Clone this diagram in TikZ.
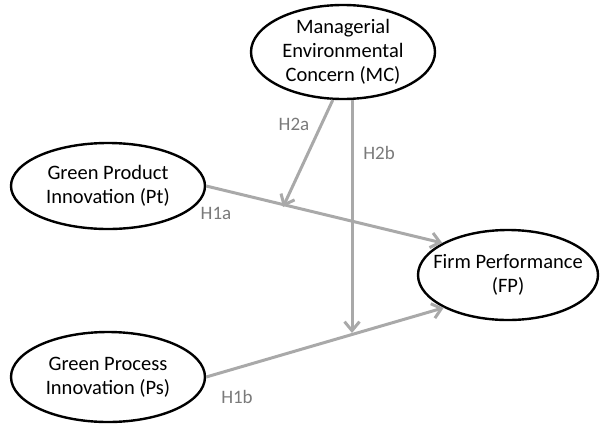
\documentclass[tikz,border=0pt]{standalone}
\usepackage{fontspec}
\setmainfont{Carlito}
\usetikzlibrary{shapes.geometric,arrows.meta}
\definecolor{arrowgray}{HTML}{A9A9A9}
\definecolor{labelgray}{HTML}{7A7A7A}
\tikzset{
  construct/.style={ellipse,draw=black,line width=2.4pt,inner xsep=-20pt,inner ysep=-14pt,align=center,font=\fontsize{20.5}{24}\selectfont},
  path/.style={draw=arrowgray,line width=3pt,-{Straight Barb[length=9pt,width=15pt,line width=3pt]}},
  hyp/.style={text=labelgray,font=\fontsize{19}{22}\selectfont}
}
\begin{document}
\begin{tikzpicture}[x=1pt,y=-1pt]
\useasboundingbox (0,0) rectangle (601,423);
\node[construct,minimum width=184pt,minimum height=94pt] (MC) at (343,52) {Managerial\\Environmental\\Concern (MC)};
\node[construct,minimum width=194pt,minimum height=86pt] (Pt) at (108,186) {Green Product\\Innovation (Pt)};
\node[construct,minimum width=194pt,minimum height=90pt] (Ps) at (108,377) {Green Process\\Innovation (Ps)};
\node[construct,minimum width=180pt,minimum height=90pt] (FP) at (508,275) {Firm Performance\\(FP)};
\coordinate (h2aend) at (283,207);
\coordinate (h2bend) at (352,333);
\draw[path] (Pt.east) -- (FP.154);
\draw[path] (Ps.east) -- (FP.207);
\draw[path] (MC.258) -- (h2aend);
\draw[path] (MC.south -| h2bend) -- (h2bend);
\node[hyp] (l2a) at (294,124) {H2a};
\node[hyp] (l2b) at (379,153) {H2b};
\node[hyp] (l1a) at (216,213) {H1a};
\node[hyp] (l1b) at (237,397) {H1b};
\end{tikzpicture}
\end{document}
